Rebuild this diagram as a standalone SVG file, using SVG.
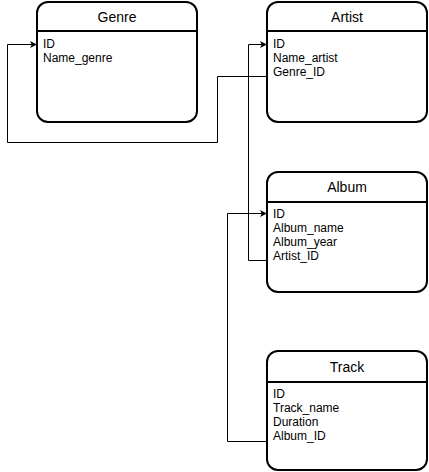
<svg xmlns="http://www.w3.org/2000/svg" width="429" height="472" viewBox="0 0 429 472">
<style>
.box{fill:#fff;stroke:#000;stroke-width:2}
.div{stroke:#000;stroke-width:2}
.title{font-family:"Liberation Sans",Arial,sans-serif;font-size:14px;fill:#000;text-anchor:middle}
.attr{font-family:"Liberation Sans",Arial,sans-serif;font-size:12px;fill:#000}
.edge{fill:none;stroke:#000;stroke-width:1}
</style>
<defs>
<marker id="arr" viewBox="0 0 10 10" refX="10" refY="5" markerWidth="7" markerHeight="7" markerUnits="userSpaceOnUse" orient="auto">
<path d="M0,0 L10,5 L0,10 L2.5,5 Z" fill="#000"/>
</marker>
</defs>
<rect width="429" height="472" fill="#fff"/>
<g id="connectors">
<path class="edge" d="M266,76.5 H217.5 V142.5 H7.5 V44.5 H37" marker-end="url(#arr)"/>
<path class="edge" d="M266,260.5 H248.5 V44.5 H267" marker-end="url(#arr)"/>
<path class="edge" d="M266,441.5 H227.5 V213.5 H267" marker-end="url(#arr)"/>
</g>
<g id="genre">
<rect class="box" x="37" y="2" width="160" height="120" rx="11"/>
<line class="div" x1="37" y1="31" x2="197" y2="31"/>
<text class="title" x="117" y="22">Genre</text>
<text class="attr" x="43" y="48">ID</text>
<text class="attr" x="43" y="62">Name_genre</text>
</g>
<g id="artist">
<rect class="box" x="267" y="2" width="160" height="120" rx="11"/>
<line class="div" x1="267" y1="31" x2="427" y2="31"/>
<text class="title" x="347" y="22">Artist</text>
<text class="attr" x="273" y="48">ID</text>
<text class="attr" x="273" y="62">Name_artist</text>
<text class="attr" x="273" y="76">Genre_ID</text>
</g>
<g id="album">
<rect class="box" x="267" y="172" width="160" height="120" rx="11"/>
<line class="div" x1="267" y1="202" x2="427" y2="202"/>
<text class="title" x="347" y="192">Album</text>
<text class="attr" x="273" y="218">ID</text>
<text class="attr" x="273" y="232">Album_name</text>
<text class="attr" x="273" y="246">Album_year</text>
<text class="attr" x="273" y="260">Artist_ID</text>
</g>
<g id="track">
<rect class="box" x="267" y="351" width="160" height="119" rx="11"/>
<line class="div" x1="267" y1="382" x2="427" y2="382"/>
<text class="title" x="347" y="372">Track</text>
<text class="attr" x="273" y="398">ID</text>
<text class="attr" x="273" y="412">Track_name</text>
<text class="attr" x="273" y="426">Duration</text>
<text class="attr" x="273" y="440">Album_ID</text>
</g>
</svg>
